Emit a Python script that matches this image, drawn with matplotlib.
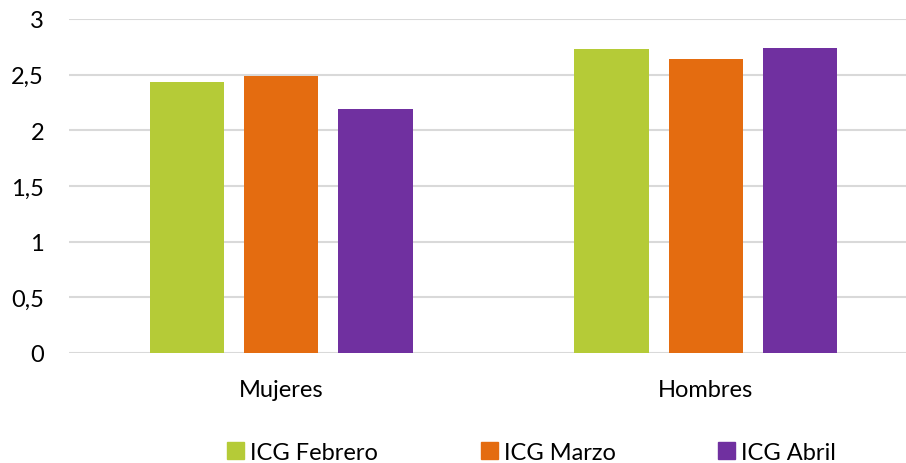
import numpy as np
import matplotlib.pyplot as plt
from matplotlib.patches import Patch

categorias = ['Mujeres', 'Hombres']
series = ['ICG Febrero', 'ICG Marzo', 'ICG Abril']
febrero = [2.43, 2.73]
marzo = [2.49, 2.64]
abril = [2.19, 2.74]
colores = ['#B5CB37', '#E46C10', '#7030A0']

plt.rcParams['font.family'] = ['Lato', 'DejaVu Sans']

fig = plt.figure(figsize=(9.06, 4.64), dpi=100)
ax = fig.add_axes([69 / 906, 110 / 464, 849 / 906, 334 / 464])

x = np.arange(len(categorias))
ancho = 0.175
paso = 0.222
for i, (vals, c) in enumerate(zip([febrero, marzo, abril], colores)):
    ax.bar(x + (i - 1) * paso, vals, width=ancho, color=c, zorder=3)

ax.set_xlim(-0.5, 1.5)
ax.set_ylim(0, 3)
ax.set_yticks([0, 0.5, 1, 1.5, 2, 2.5, 3])
ax.set_yticklabels(['0', '0,5', '1', '1,5', '2', '2,5', '3'])
ax.set_xticks(x)
ax.set_xticklabels(categorias)
ax.grid(axis='y', color='#d9d9d9', linewidth=1.5, zorder=0)
for s in ax.spines.values():
    s.set_visible(False)
ax.tick_params(axis='both', length=0, labelsize=17, colors='#000000')
ax.tick_params(axis='y', pad=18)
ax.tick_params(axis='x', pad=19)

handles = [Patch(color=c) for c in colores]
fig.legend(handles, series, loc='lower center', bbox_to_anchor=(0.587, -0.045),
           ncol=3, frameon=False, fontsize=17, handlelength=0.72, handleheight=0.72,
           handletextpad=0.25, columnspacing=4.35)

plt.savefig('out.png', dpi=100)
